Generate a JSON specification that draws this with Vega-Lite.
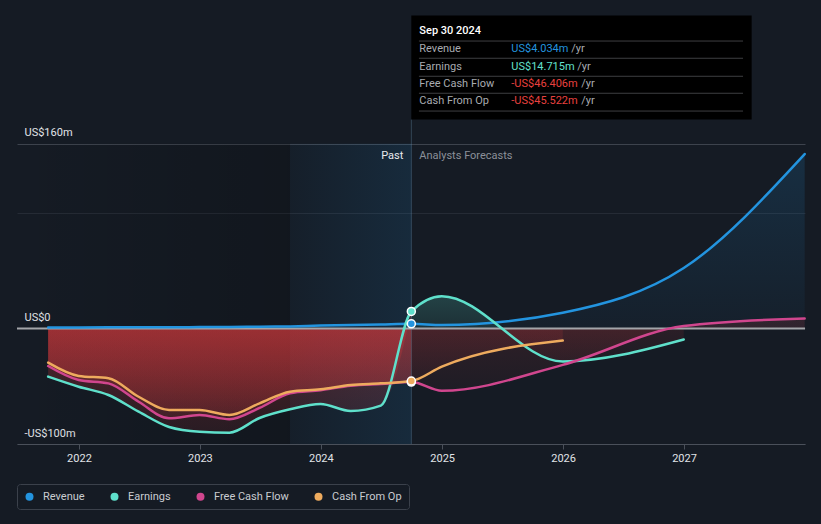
{
  "$schema": "https://vega.github.io/schema/vega-lite/v6.json",
  "width": 788,
  "height": 439,
  "autosize": {"type": "none"},
  "padding": {"left": 17, "top": 5, "right": 16, "bottom": 80},
  "background": "#151b24",
  "config": {"font": "Roboto", "view": {"stroke": null}},
  "datasets": {
    "s": [
      {"date": "2021-09-30", "series": "Revenue", "value": 0.8, "phase": "past"},
      {"date": "2021-12-31", "series": "Revenue", "value": 0.9, "phase": "past"},
      {"date": "2022-03-31", "series": "Revenue", "value": 1.0, "phase": "past"},
      {"date": "2022-06-30", "series": "Revenue", "value": 1.1, "phase": "past"},
      {"date": "2022-09-30", "series": "Revenue", "value": 1.1, "phase": "past"},
      {"date": "2022-12-31", "series": "Revenue", "value": 1.2, "phase": "past"},
      {"date": "2023-03-31", "series": "Revenue", "value": 1.3, "phase": "past"},
      {"date": "2023-06-30", "series": "Revenue", "value": 1.5, "phase": "past"},
      {"date": "2023-09-30", "series": "Revenue", "value": 1.8, "phase": "past"},
      {"date": "2023-12-31", "series": "Revenue", "value": 2.5, "phase": "past"},
      {"date": "2024-03-31", "series": "Revenue", "value": 3.0, "phase": "past"},
      {"date": "2024-06-30", "series": "Revenue", "value": 3.5, "phase": "past"},
      {"date": "2024-09-30", "series": "Revenue", "value": 4.034, "phase": "now"},
      {"date": "2024-12-31", "series": "Revenue", "value": 3.0, "phase": "forecast"},
      {"date": "2025-12-31", "series": "Revenue", "value": 13.6, "phase": "forecast"},
      {"date": "2026-12-31", "series": "Revenue", "value": 52.3, "phase": "forecast"},
      {"date": "2027-12-31", "series": "Revenue", "value": 151, "phase": "forecast"},

      {"date": "2021-09-30", "series": "Earnings", "value": -41.7, "phase": "past"},
      {"date": "2021-12-31", "series": "Earnings", "value": -50.4, "phase": "past"},
      {"date": "2022-03-31", "series": "Earnings", "value": -57.6, "phase": "past"},
      {"date": "2022-06-30", "series": "Earnings", "value": -72, "phase": "past"},
      {"date": "2022-09-30", "series": "Earnings", "value": -85.3, "phase": "past"},
      {"date": "2022-12-31", "series": "Earnings", "value": -89.4, "phase": "past"},
      {"date": "2023-03-31", "series": "Earnings", "value": -90.2, "phase": "past"},
      {"date": "2023-06-30", "series": "Earnings", "value": -77.5, "phase": "past"},
      {"date": "2023-09-30", "series": "Earnings", "value": -70, "phase": "past"},
      {"date": "2023-12-31", "series": "Earnings", "value": -65.4, "phase": "past"},
      {"date": "2024-03-31", "series": "Earnings", "value": -71.4, "phase": "past"},
      {"date": "2024-06-30", "series": "Earnings", "value": -66.8, "phase": "past"},
      {"date": "2024-09-30", "series": "Earnings", "value": 14.715, "phase": "now"},
      {"date": "2024-12-31", "series": "Earnings", "value": 28, "phase": "forecast"},
      {"date": "2025-12-31", "series": "Earnings", "value": -28.5, "phase": "forecast"},
      {"date": "2026-12-31", "series": "Earnings", "value": -9.5, "phase": "forecast"},

      {"date": "2021-09-30", "series": "Free Cash Flow", "value": -32.5, "phase": "past"},
      {"date": "2021-12-31", "series": "Free Cash Flow", "value": -44.6, "phase": "past"},
      {"date": "2022-03-31", "series": "Free Cash Flow", "value": -47.5, "phase": "past"},
      {"date": "2022-06-30", "series": "Free Cash Flow", "value": -63.4, "phase": "past"},
      {"date": "2022-09-30", "series": "Free Cash Flow", "value": -77.8, "phase": "past"},
      {"date": "2022-12-31", "series": "Free Cash Flow", "value": -74.9, "phase": "past"},
      {"date": "2023-03-31", "series": "Free Cash Flow", "value": -78.6, "phase": "past"},
      {"date": "2023-06-30", "series": "Free Cash Flow", "value": -68.8, "phase": "past"},
      {"date": "2023-09-30", "series": "Free Cash Flow", "value": -56.1, "phase": "past"},
      {"date": "2023-12-31", "series": "Free Cash Flow", "value": -53.5, "phase": "past"},
      {"date": "2024-03-31", "series": "Free Cash Flow", "value": -49.5, "phase": "past"},
      {"date": "2024-06-30", "series": "Free Cash Flow", "value": -48, "phase": "past"},
      {"date": "2024-09-30", "series": "Free Cash Flow", "value": -46.406, "phase": "now"},
      {"date": "2024-12-31", "series": "Free Cash Flow", "value": -54, "phase": "forecast"},
      {"date": "2025-12-31", "series": "Free Cash Flow", "value": -31.5, "phase": "forecast"},
      {"date": "2026-12-31", "series": "Free Cash Flow", "value": 2.1, "phase": "forecast"},
      {"date": "2027-12-31", "series": "Free Cash Flow", "value": 8.7, "phase": "forecast"},

      {"date": "2021-09-30", "series": "Cash From Op", "value": -29.6, "phase": "past"},
      {"date": "2021-12-31", "series": "Cash From Op", "value": -41.1, "phase": "past"},
      {"date": "2022-03-31", "series": "Cash From Op", "value": -43.1, "phase": "past"},
      {"date": "2022-06-30", "series": "Cash From Op", "value": -59.1, "phase": "past"},
      {"date": "2022-09-30", "series": "Cash From Op", "value": -70.6, "phase": "past"},
      {"date": "2022-12-31", "series": "Cash From Op", "value": -70.6, "phase": "past"},
      {"date": "2023-03-31", "series": "Cash From Op", "value": -74.9, "phase": "past"},
      {"date": "2023-06-30", "series": "Cash From Op", "value": -64.8, "phase": "past"},
      {"date": "2023-09-30", "series": "Cash From Op", "value": -54.7, "phase": "past"},
      {"date": "2023-12-31", "series": "Cash From Op", "value": -52.7, "phase": "past"},
      {"date": "2024-03-31", "series": "Cash From Op", "value": -48.9, "phase": "past"},
      {"date": "2024-06-30", "series": "Cash From Op", "value": -47.5, "phase": "past"},
      {"date": "2024-09-30", "series": "Cash From Op", "value": -45.522, "phase": "now"},
      {"date": "2024-12-31", "series": "Cash From Op", "value": -33, "phase": "forecast"},
      {"date": "2025-12-31", "series": "Cash From Op", "value": -10.5, "phase": "forecast"}
    ]
  },
  "layer": [
    {
      "data": {"values": [{"start": "2021-06-28", "end": "2023-09-30"}]},
      "mark": {"type": "rect", "fill": {"gradient": "linear", "x1": 0, "y1": 0, "x2": 1, "y2": 0, "stops": [{"offset": 0, "color": "rgba(0,0,0,0)"}, {"offset": 1, "color": "rgba(0,0,0,0.17)"}]}},
      "encoding": {
        "x": {"field": "start", "type": "temporal", "title": null, "scale": {"type": "utc", "domain": [{"year": 2021, "month": 6, "date": 28, "utc": true}, {"year": 2028, "month": 1, "date": 1, "utc": true}]}},
        "x2": {"field": "end"},
        "y": {"datum": 160, "type": "quantitative", "title": null, "scale": {"domain": [-100, 280], "nice": false, "zero": false}},
        "y2": {"datum": -100}
      }
    },
    {
      "data": {"values": [{"start": "2023-09-30", "end": "2024-09-30"}]},
      "mark": {"type": "rect", "fill": {"gradient": "linear", "x1": 0, "y1": 0, "x2": 1, "y2": 0, "stops": [{"offset": 0, "color": "rgba(35,148,223,0.03)"}, {"offset": 1, "color": "rgba(35,148,223,0.13)"}]}},
      "encoding": {
        "x": {"field": "start", "type": "temporal", "title": null, "scale": {"type": "utc", "domain": [{"year": 2021, "month": 6, "date": 28, "utc": true}, {"year": 2028, "month": 1, "date": 1, "utc": true}]}},
        "x2": {"field": "end"},
        "y": {"datum": 160, "type": "quantitative", "title": null, "scale": {"domain": [-100, 280], "nice": false, "zero": false}},
        "y2": {"datum": -100}
      }
    },
    {
      "data": {"name": "s"},
      "transform": [{"filter": {"field": "series", "equal": "Revenue"}}],
      "mark": {"type": "area", "interpolate": "monotone", "fill": {"gradient": "linear", "x1": 0, "y1": 0, "x2": 0, "y2": 1, "stops": [{"offset": 0, "color": "rgba(35,148,223,0.16)"}, {"offset": 1, "color": "rgba(35,148,223,0.04)"}]}},
      "encoding": {
        "x": {"field": "date", "type": "temporal", "title": null, "scale": {"type": "utc", "domain": [{"year": 2021, "month": 6, "date": 28, "utc": true}, {"year": 2028, "month": 1, "date": 1, "utc": true}]}},
        "y": {"field": "value", "type": "quantitative", "stack": null, "title": null, "scale": {"domain": [-100, 280], "nice": false, "zero": false}},
        "y2": {"datum": 0}
      }
    },
    {
      "data": {"name": "s"},
      "transform": [{"filter": {"field": "phase", "oneOf": ["past", "now"]}}, {"filter": {"field": "series", "oneOf": ["Earnings", "Free Cash Flow", "Cash From Op"]}}],
      "mark": {"type": "area", "interpolate": "monotone", "fill": {"gradient": "linear", "x1": 0, "y1": 0, "x2": 0, "y2": 1, "stops": [{"offset": 0, "color": "rgba(200,55,58,0.38)"}, {"offset": 1, "color": "rgba(200,55,58,0.12)"}]}},
      "encoding": {
        "x": {"field": "date", "type": "temporal", "title": null, "scale": {"type": "utc", "domain": [{"year": 2021, "month": 6, "date": 28, "utc": true}, {"year": 2028, "month": 1, "date": 1, "utc": true}]}},
        "y": {"field": "value", "type": "quantitative", "stack": null, "title": null, "scale": {"domain": [-100, 280], "nice": false, "zero": false}},
        "y2": {"datum": 0},
        "detail": {"field": "series"}
      }
    },
    {
      "data": {"name": "s"},
      "transform": [{"filter": {"field": "phase", "oneOf": ["now", "forecast"]}}, {"filter": {"field": "series", "oneOf": ["Free Cash Flow", "Cash From Op"]}}],
      "mark": {"type": "area", "interpolate": "monotone", "fill": {"gradient": "linear", "x1": 0, "y1": 0, "x2": 0, "y2": 1, "stops": [{"offset": 0, "color": "rgba(200,55,58,0.16)"}, {"offset": 1, "color": "rgba(200,55,58,0.05)"}]}},
      "encoding": {
        "x": {"field": "date", "type": "temporal", "title": null, "scale": {"type": "utc", "domain": [{"year": 2021, "month": 6, "date": 28, "utc": true}, {"year": 2028, "month": 1, "date": 1, "utc": true}]}},
        "y": {"field": "value", "type": "quantitative", "stack": null, "title": null, "scale": {"domain": [-100, 280], "nice": false, "zero": false}},
        "y2": {"datum": 0},
        "detail": {"field": "series"}
      }
    },
    {
      "data": {"name": "s"},
      "transform": [{"filter": {"field": "phase", "oneOf": ["now", "forecast"]}}, {"filter": {"field": "series", "equal": "Earnings"}}],
      "mark": {"type": "area", "interpolate": "monotone", "fill": {"gradient": "linear", "x1": 0, "y1": 0, "x2": 0, "y2": 1, "stops": [{"offset": 0, "color": "rgba(94,224,204,0.2)"}, {"offset": 0.5, "color": "rgba(94,224,204,0.1)"}, {"offset": 0.5, "color": "rgba(200,55,58,0.12)"}, {"offset": 1, "color": "rgba(200,55,58,0.05)"}]}},
      "encoding": {
        "x": {"field": "date", "type": "temporal", "title": null, "scale": {"type": "utc", "domain": [{"year": 2021, "month": 6, "date": 28, "utc": true}, {"year": 2028, "month": 1, "date": 1, "utc": true}]}},
        "y": {"field": "value", "type": "quantitative", "stack": null, "title": null, "scale": {"domain": [-100, 280], "nice": false, "zero": false}},
        "y2": {"datum": 0}
      }
    },
    {
      "data": {"values": [{}]},
      "mark": {"type": "rule", "color": "#a3a5a9", "strokeWidth": 2},
      "encoding": {
        "y": {"datum": 0, "type": "quantitative", "title": null, "scale": {"domain": [-100, 280], "nice": false, "zero": false}}
      }
    },
    {
      "data": {"values": [{}]},
      "mark": {"type": "rule", "color": "rgba(110,150,180,0.35)", "strokeWidth": 1},
      "encoding": {
        "x": {"datum": {"year": 2024, "month": 9, "date": 30, "utc": true}, "type": "temporal", "title": null, "scale": {"type": "utc", "domain": [{"year": 2021, "month": 6, "date": 28, "utc": true}, {"year": 2028, "month": 1, "date": 1, "utc": true}]}},
        "y": {"datum": 180.9, "type": "quantitative", "title": null, "scale": {"domain": [-100, 280], "nice": false, "zero": false}},
        "y2": {"datum": -100}
      }
    },
    {
      "data": {"name": "s"},
      "mark": {"type": "line", "interpolate": "monotone", "strokeWidth": 2.5, "strokeCap": "round"},
      "encoding": {
        "x": {"field": "date", "type": "temporal", "title": null, "scale": {"type": "utc", "domain": [{"year": 2021, "month": 6, "date": 28, "utc": true}, {"year": 2028, "month": 1, "date": 1, "utc": true}]},
          "axis": {"title": null, "values": [{"year": 2022, "month": 1, "date": 1, "utc": true}, {"year": 2023, "month": 1, "date": 1, "utc": true}, {"year": 2024, "month": 1, "date": 1, "utc": true}, {"year": 2025, "month": 1, "date": 1, "utc": true}, {"year": 2026, "month": 1, "date": 1, "utc": true}, {"year": 2027, "month": 1, "date": 1, "utc": true}], "format": "%Y", "grid": false, "domainColor": "#4a505a", "tickColor": "#4a505a", "tickSize": 5, "labelColor": "#e1e4e8", "labelFontSize": 11, "labelPadding": 3}},
        "y": {"field": "value", "type": "quantitative", "title": null, "scale": {"domain": [-100, 280], "nice": false, "zero": false},
          "axis": {"title": null, "values": [-100, 0, 100, 160], "domain": false, "ticks": false, "tickSize": 0, "grid": true, "gridColor": {"condition": {"test": "datum.value === 160", "value": "#3d434d"}, "value": "#252b35"}, "labelExpr": "datum.value == 160 ? 'US$160m' : datum.value == 0 ? 'US$0' : datum.value == -100 ? '-US$100m' : ''", "labelAlign": "left", "labelBaseline": "alphabetic", "labelPadding": -7, "labelOffset": -8, "labelOverlap": false, "labelColor": "#e1e4e8", "labelFontSize": 11}},
        "color": {"field": "series", "type": "nominal",
          "scale": {"domain": ["Revenue", "Earnings", "Free Cash Flow", "Cash From Op"], "range": ["#2394df", "#5fe0cb", "#d0468e", "#eeab5e"]},
          "legend": {"title": null, "orient": "none", "legendX": 0, "legendY": 479, "direction": "horizontal", "symbolType": "circle", "symbolSize": 64, "symbolStrokeWidth": 0, "labelOffset": 8, "columnPadding": 24, "padding": 7, "strokeColor": "#3b414b", "cornerRadius": 3, "labelColor": "#c9ccd1", "labelFontSize": 11,
            "encode": {"symbols": {"update": {"fill": {"scale": "color", "field": "value"}, "opacity": {"value": 1}, "fillOpacity": {"value": 1}}}}}
        }
      }
    },
    {
      "data": {"name": "s"},
      "transform": [{"filter": {"field": "phase", "equal": "now"}}],
      "mark": {"type": "point", "filled": true, "size": 64, "stroke": "#ffffff", "strokeWidth": 1.5, "opacity": 1},
      "encoding": {
        "x": {"field": "date", "type": "temporal", "title": null, "scale": {"type": "utc", "domain": [{"year": 2021, "month": 6, "date": 28, "utc": true}, {"year": 2028, "month": 1, "date": 1, "utc": true}]}},
        "y": {"field": "value", "type": "quantitative", "title": null, "scale": {"domain": [-100, 280], "nice": false, "zero": false}},
        "color": {"field": "series", "type": "nominal", "legend": null, "scale": {"domain": ["Revenue", "Earnings", "Free Cash Flow", "Cash From Op"], "range": ["#2394df", "#5fe0cb", "#d0468e", "#eeab5e"]}}
      }
    },
    {
      "data": {"values": [{}]},
      "mark": {"type": "text", "text": "Past", "align": "right", "baseline": "middle", "dx": -8, "fontSize": 11, "color": "#e8eaed"},
      "encoding": {
        "x": {"datum": {"year": 2024, "month": 9, "date": 30, "utc": true}, "type": "temporal", "title": null, "scale": {"type": "utc", "domain": [{"year": 2021, "month": 6, "date": 28, "utc": true}, {"year": 2028, "month": 1, "date": 1, "utc": true}]}},
        "y": {"datum": 149.3, "type": "quantitative", "title": null, "scale": {"domain": [-100, 280], "nice": false, "zero": false}}
      }
    },
    {
      "data": {"values": [{}]},
      "mark": {"type": "text", "text": "Analysts Forecasts", "align": "left", "baseline": "middle", "dx": 8, "fontSize": 11, "color": "#8b9099"},
      "encoding": {
        "x": {"datum": {"year": 2024, "month": 9, "date": 30, "utc": true}, "type": "temporal", "title": null, "scale": {"type": "utc", "domain": [{"year": 2021, "month": 6, "date": 28, "utc": true}, {"year": 2028, "month": 1, "date": 1, "utc": true}]}},
        "y": {"datum": 149.3, "type": "quantitative", "title": null, "scale": {"domain": [-100, 280], "nice": false, "zero": false}}
      }
    },
    {
      "data": {"values": [{}]},
      "mark": {"type": "rect", "fill": "#000000"},
      "encoding": {
        "x": {"datum": {"year": 2024, "month": 9, "date": 30, "utc": true}, "type": "temporal", "title": null, "scale": {"type": "utc", "domain": [{"year": 2021, "month": 6, "date": 28, "utc": true}, {"year": 2028, "month": 1, "date": 1, "utc": true}]}},
        "x2": {"datum": {"year": 2027, "month": 7, "date": 24, "utc": true}},
        "y": {"datum": 270.9, "type": "quantitative", "title": null, "scale": {"domain": [-100, 280], "nice": false, "zero": false}},
        "y2": {"datum": 180.9}
      }
    },
    {
      "data": {"values": [{}]},
      "mark": {"type": "rule", "color": "#3e3f42", "strokeWidth": 1},
      "encoding": {
        "x": {"datum": {"year": 2024, "month": 10, "date": 23, "utc": true}, "type": "temporal", "title": null, "scale": {"type": "utc", "domain": [{"year": 2021, "month": 6, "date": 28, "utc": true}, {"year": 2028, "month": 1, "date": 1, "utc": true}]}},
        "x2": {"datum": {"year": 2027, "month": 6, "date": 28, "utc": true}},
        "y": {"datum": 248.8, "type": "quantitative", "title": null, "scale": {"domain": [-100, 280], "nice": false, "zero": false}}
      }
    },
    {
      "data": {"values": [{}]},
      "mark": {"type": "rule", "color": "#3e3f42", "strokeWidth": 1},
      "encoding": {
        "x": {"datum": {"year": 2024, "month": 10, "date": 23, "utc": true}, "type": "temporal", "title": null, "scale": {"type": "utc", "domain": [{"year": 2021, "month": 6, "date": 28, "utc": true}, {"year": 2028, "month": 1, "date": 1, "utc": true}]}},
        "x2": {"datum": {"year": 2027, "month": 6, "date": 28, "utc": true}},
        "y": {"datum": 233.9, "type": "quantitative", "title": null, "scale": {"domain": [-100, 280], "nice": false, "zero": false}}
      }
    },
    {
      "data": {"values": [{}]},
      "mark": {"type": "rule", "color": "#3e3f42", "strokeWidth": 1},
      "encoding": {
        "x": {"datum": {"year": 2024, "month": 10, "date": 23, "utc": true}, "type": "temporal", "title": null, "scale": {"type": "utc", "domain": [{"year": 2021, "month": 6, "date": 28, "utc": true}, {"year": 2028, "month": 1, "date": 1, "utc": true}]}},
        "x2": {"datum": {"year": 2027, "month": 6, "date": 28, "utc": true}},
        "y": {"datum": 218.3, "type": "quantitative", "title": null, "scale": {"domain": [-100, 280], "nice": false, "zero": false}}
      }
    },
    {
      "data": {"values": [{}]},
      "mark": {"type": "rule", "color": "#3e3f42", "strokeWidth": 1},
      "encoding": {
        "x": {"datum": {"year": 2024, "month": 10, "date": 23, "utc": true}, "type": "temporal", "title": null, "scale": {"type": "utc", "domain": [{"year": 2021, "month": 6, "date": 28, "utc": true}, {"year": 2028, "month": 1, "date": 1, "utc": true}]}},
        "x2": {"datum": {"year": 2027, "month": 6, "date": 28, "utc": true}},
        "y": {"datum": 203.6, "type": "quantitative", "title": null, "scale": {"domain": [-100, 280], "nice": false, "zero": false}}
      }
    },
    {
      "data": {"values": [{}]},
      "mark": {"type": "rule", "color": "#3e3f42", "strokeWidth": 1},
      "encoding": {
        "x": {"datum": {"year": 2024, "month": 10, "date": 23, "utc": true}, "type": "temporal", "title": null, "scale": {"type": "utc", "domain": [{"year": 2021, "month": 6, "date": 28, "utc": true}, {"year": 2028, "month": 1, "date": 1, "utc": true}]}},
        "x2": {"datum": {"year": 2027, "month": 6, "date": 28, "utc": true}},
        "y": {"datum": 188.2, "type": "quantitative", "title": null, "scale": {"domain": [-100, 280], "nice": false, "zero": false}}
      }
    },
    {
      "data": {"values": [{}]},
      "mark": {"type": "text", "text": "Sep 30 2024", "align": "left", "baseline": "middle", "dx": 8, "fontSize": 11, "fontWeight": 500, "color": "#ffffff"},
      "encoding": {
        "x": {"datum": {"year": 2024, "month": 9, "date": 30, "utc": true}, "type": "temporal", "title": null, "scale": {"type": "utc", "domain": [{"year": 2021, "month": 6, "date": 28, "utc": true}, {"year": 2028, "month": 1, "date": 1, "utc": true}]}},
        "y": {"datum": 257.7, "type": "quantitative", "title": null, "scale": {"domain": [-100, 280], "nice": false, "zero": false}}
      }
    },
    {
      "data": {"values": [{}]},
      "mark": {"type": "text", "text": "Revenue", "align": "left", "baseline": "middle", "dx": 8, "fontSize": 11, "color": "#a8abb0"},
      "encoding": {
        "x": {"datum": {"year": 2024, "month": 9, "date": 30, "utc": true}, "type": "temporal", "title": null, "scale": {"type": "utc", "domain": [{"year": 2021, "month": 6, "date": 28, "utc": true}, {"year": 2028, "month": 1, "date": 1, "utc": true}]}},
        "y": {"datum": 241.6, "type": "quantitative", "title": null, "scale": {"domain": [-100, 280], "nice": false, "zero": false}}
      }
    },
    {
      "data": {"values": [{}]},
      "mark": {"type": "text", "text": "Earnings", "align": "left", "baseline": "middle", "dx": 8, "fontSize": 11, "color": "#a8abb0"},
      "encoding": {
        "x": {"datum": {"year": 2024, "month": 9, "date": 30, "utc": true}, "type": "temporal", "title": null, "scale": {"type": "utc", "domain": [{"year": 2021, "month": 6, "date": 28, "utc": true}, {"year": 2028, "month": 1, "date": 1, "utc": true}]}},
        "y": {"datum": 226.6, "type": "quantitative", "title": null, "scale": {"domain": [-100, 280], "nice": false, "zero": false}}
      }
    },
    {
      "data": {"values": [{}]},
      "mark": {"type": "text", "text": "Free Cash Flow", "align": "left", "baseline": "middle", "dx": 8, "fontSize": 11, "color": "#a8abb0"},
      "encoding": {
        "x": {"datum": {"year": 2024, "month": 9, "date": 30, "utc": true}, "type": "temporal", "title": null, "scale": {"type": "utc", "domain": [{"year": 2021, "month": 6, "date": 28, "utc": true}, {"year": 2028, "month": 1, "date": 1, "utc": true}]}},
        "y": {"datum": 211.3, "type": "quantitative", "title": null, "scale": {"domain": [-100, 280], "nice": false, "zero": false}}
      }
    },
    {
      "data": {"values": [{}]},
      "mark": {"type": "text", "text": "Cash From Op", "align": "left", "baseline": "middle", "dx": 8, "fontSize": 11, "color": "#a8abb0"},
      "encoding": {
        "x": {"datum": {"year": 2024, "month": 9, "date": 30, "utc": true}, "type": "temporal", "title": null, "scale": {"type": "utc", "domain": [{"year": 2021, "month": 6, "date": 28, "utc": true}, {"year": 2028, "month": 1, "date": 1, "utc": true}]}},
        "y": {"datum": 196.6, "type": "quantitative", "title": null, "scale": {"domain": [-100, 280], "nice": false, "zero": false}}
      }
    },
    {
      "data": {"values": [{}]},
      "mark": {"type": "text", "text": "US$4.034m", "align": "left", "baseline": "middle", "dx": 100, "fontSize": 11, "color": "#2394df"},
      "encoding": {
        "x": {"datum": {"year": 2024, "month": 9, "date": 30, "utc": true}, "type": "temporal", "title": null, "scale": {"type": "utc", "domain": [{"year": 2021, "month": 6, "date": 28, "utc": true}, {"year": 2028, "month": 1, "date": 1, "utc": true}]}},
        "y": {"datum": 241.6, "type": "quantitative", "title": null, "scale": {"domain": [-100, 280], "nice": false, "zero": false}}
      }
    },
    {
      "data": {"values": [{}]},
      "mark": {"type": "text", "text": "US$14.715m", "align": "left", "baseline": "middle", "dx": 100, "fontSize": 11, "color": "#63e1cd"},
      "encoding": {
        "x": {"datum": {"year": 2024, "month": 9, "date": 30, "utc": true}, "type": "temporal", "title": null, "scale": {"type": "utc", "domain": [{"year": 2021, "month": 6, "date": 28, "utc": true}, {"year": 2028, "month": 1, "date": 1, "utc": true}]}},
        "y": {"datum": 226.6, "type": "quantitative", "title": null, "scale": {"domain": [-100, 280], "nice": false, "zero": false}}
      }
    },
    {
      "data": {"values": [{}]},
      "mark": {"type": "text", "text": "-US$46.406m", "align": "left", "baseline": "middle", "dx": 100, "fontSize": 11, "color": "#e8413f"},
      "encoding": {
        "x": {"datum": {"year": 2024, "month": 9, "date": 30, "utc": true}, "type": "temporal", "title": null, "scale": {"type": "utc", "domain": [{"year": 2021, "month": 6, "date": 28, "utc": true}, {"year": 2028, "month": 1, "date": 1, "utc": true}]}},
        "y": {"datum": 211.3, "type": "quantitative", "title": null, "scale": {"domain": [-100, 280], "nice": false, "zero": false}}
      }
    },
    {
      "data": {"values": [{}]},
      "mark": {"type": "text", "text": "-US$45.522m", "align": "left", "baseline": "middle", "dx": 100, "fontSize": 11, "color": "#e8413f"},
      "encoding": {
        "x": {"datum": {"year": 2024, "month": 9, "date": 30, "utc": true}, "type": "temporal", "title": null, "scale": {"type": "utc", "domain": [{"year": 2021, "month": 6, "date": 28, "utc": true}, {"year": 2028, "month": 1, "date": 1, "utc": true}]}},
        "y": {"datum": 196.6, "type": "quantitative", "title": null, "scale": {"domain": [-100, 280], "nice": false, "zero": false}}
      }
    },
    {
      "data": {"values": [{}]},
      "mark": {"type": "text", "text": "/yr", "align": "left", "baseline": "middle", "dx": 160, "fontSize": 11, "color": "#a8abb0"},
      "encoding": {
        "x": {"datum": {"year": 2024, "month": 9, "date": 30, "utc": true}, "type": "temporal", "title": null, "scale": {"type": "utc", "domain": [{"year": 2021, "month": 6, "date": 28, "utc": true}, {"year": 2028, "month": 1, "date": 1, "utc": true}]}},
        "y": {"datum": 241.6, "type": "quantitative", "title": null, "scale": {"domain": [-100, 280], "nice": false, "zero": false}}
      }
    },
    {
      "data": {"values": [{}]},
      "mark": {"type": "text", "text": "/yr", "align": "left", "baseline": "middle", "dx": 166, "fontSize": 11, "color": "#a8abb0"},
      "encoding": {
        "x": {"datum": {"year": 2024, "month": 9, "date": 30, "utc": true}, "type": "temporal", "title": null, "scale": {"type": "utc", "domain": [{"year": 2021, "month": 6, "date": 28, "utc": true}, {"year": 2028, "month": 1, "date": 1, "utc": true}]}},
        "y": {"datum": 226.6, "type": "quantitative", "title": null, "scale": {"domain": [-100, 280], "nice": false, "zero": false}}
      }
    },
    {
      "data": {"values": [{}]},
      "mark": {"type": "text", "text": "/yr", "align": "left", "baseline": "middle", "dx": 170, "fontSize": 11, "color": "#a8abb0"},
      "encoding": {
        "x": {"datum": {"year": 2024, "month": 9, "date": 30, "utc": true}, "type": "temporal", "title": null, "scale": {"type": "utc", "domain": [{"year": 2021, "month": 6, "date": 28, "utc": true}, {"year": 2028, "month": 1, "date": 1, "utc": true}]}},
        "y": {"datum": 211.3, "type": "quantitative", "title": null, "scale": {"domain": [-100, 280], "nice": false, "zero": false}}
      }
    },
    {
      "data": {"values": [{}]},
      "mark": {"type": "text", "text": "/yr", "align": "left", "baseline": "middle", "dx": 170, "fontSize": 11, "color": "#a8abb0"},
      "encoding": {
        "x": {"datum": {"year": 2024, "month": 9, "date": 30, "utc": true}, "type": "temporal", "title": null, "scale": {"type": "utc", "domain": [{"year": 2021, "month": 6, "date": 28, "utc": true}, {"year": 2028, "month": 1, "date": 1, "utc": true}]}},
        "y": {"datum": 196.6, "type": "quantitative", "title": null, "scale": {"domain": [-100, 280], "nice": false, "zero": false}}
      }
    }
  ]
}
